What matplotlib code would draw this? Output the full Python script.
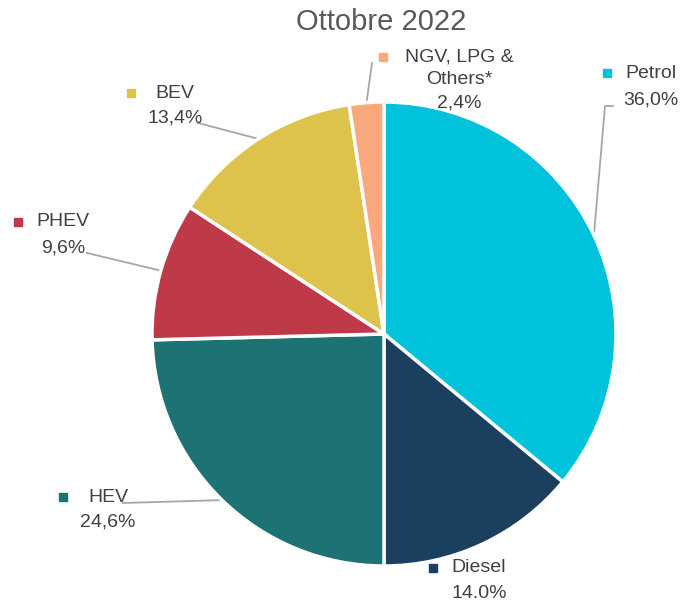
import matplotlib
matplotlib.use("Agg")
import matplotlib.pyplot as plt
import numpy as np

plt.rcParams['font.family'] = ['Liberation Sans', 'DejaVu Sans']

categories = ["Petrol", "Diesel", "HEV", "PHEV", "BEV", "NGV, LPG &\nOthers*"]
values = [36.0, 14.0, 24.6, 9.6, 13.4, 2.4]
pct_labels = ["36,0%", "14.0%", "24,6%", "9,6%", "13,4%", "2,4%"]
colors = ["#00C3DB", "#1B3F5E", "#1D7374", "#BF3A48", "#DDC24C", "#F9A97D"]
title = "Ottobre 2022"

W, H = 683, 600
CX, CY, R = 384, 334, 232

fig = plt.figure(figsize=(W / 100, H / 100), dpi=100)
ax = fig.add_axes([(CX - R) / W, (H - CY - R) / H, 2 * R / W, 2 * R / H])
wedges, _ = ax.pie(values, colors=colors, startangle=90, counterclock=False,
                   radius=1, wedgeprops=dict(edgecolor="white", linewidth=2.5))
ax.set_xlim(-1, 1)
ax.set_ylim(-1, 1)
ax.axis("off")


def d(px, py):
    return ((px - CX) / R, (CY - py) / R)


fig.text(381 / W, 1 - 22 / H, title, ha="center", va="center",
         fontsize=21, color="#595959")

# label layout: (marker px, text center px, name y, pct y, leader start or None)
layout = [
    ((607, 73), 651, 73, 100, [(613, 106), (605, 106)]),
    ((433, 568), 479, 568, 593, None),
    ((63, 497), 108, 497, 522, [(123, 503)]),
    ((18, 222), 63, 222, 248, [(87, 253)]),
    ((131, 93), 175, 93, 118, [(198, 123)]),
    ((383, 57), 459, 57, 103, [(372, 63)]),
]

cum = np.cumsum([0] + values)
tot = cum[-1]
txtc = "#404040"
fs = 14
for i, (mk, tx, ny, py, lead) in enumerate(layout):
    ax.plot(*d(*mk), marker="s", ms=5.5, color=colors[i], clip_on=False,
            transform=ax.transData)
    name = categories[i]
    if "\n" in name:
        l1, l2 = name.split("\n")
        ax.text(*d(tx, ny), l1, ha="center", va="center", fontsize=fs, color=txtc)
        ax.text(*d(tx, (ny + py) / 2), l2, ha="center", va="center", fontsize=fs, color=txtc)
    else:
        ax.text(*d(tx, ny), name, ha="center", va="center", fontsize=fs, color=txtc)
    ax.text(*d(tx, py), pct_labels[i], ha="center", va="center", fontsize=fs, color=txtc)
    if lead is not None:
        mid = (cum[i] + cum[i + 1]) / 2 / tot
        ang = np.deg2rad(90 - 360 * mid)
        pts = [d(*p) for p in lead] + [(np.cos(ang), np.sin(ang))]
        xs, ys = zip(*pts)
        ax.plot(xs, ys, color="#A6A6A6", lw=1.3, clip_on=False, zorder=0.5)

fig.savefig("out.png", dpi=100, facecolor="white")
